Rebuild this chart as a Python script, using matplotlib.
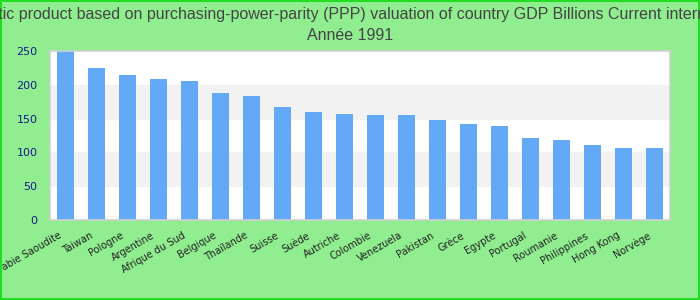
import numpy as np
import matplotlib
matplotlib.use("Agg")
import matplotlib.pyplot as plt
import matplotlib.transforms as mtransforms

countries = ["Arabie Saoudite", "Taiwan", "Pologne", "Argentine", "Afrique du Sud",
             "Belgique", "Thaïlande", "Suisse", "Suède", "Autriche", "Colombie",
             "Venezuela", "Pakistan", "Grèce", "Egypte", "Portugal", "Roumanie",
             "Philippines", "Hong Kong", "Norvège"]
gdp_ppp = [252, 225, 214, 209, 206, 188, 183, 167, 160, 157, 155,
           155, 148, 142, 139, 121, 118, 111, 106, 106]
y_ticks = [0, 50, 100, 150, 200, 250]

title_1 = ("Gross domestic product based on purchasing-power-parity (PPP) valuation of "
           "country GDP Billions Current international dollar")
title_2 = "Année 1991"

fig = plt.figure(figsize=(7, 3), dpi=100, facecolor="#90ee90")
# border around the whole picture
fig.patches.append(plt.Rectangle((0.001, 0.002), 0.997, 0.995, transform=fig.transFigure,
                                 fill=False, edgecolor="#22dd22", lw=1.5))
ax = fig.add_axes([50 / 700, 80 / 300, 620 / 700, 169 / 300])
ax.set_facecolor("white")

# alternating bands
for lo, hi in [(50, 100), (150, 200)]:
    ax.axhspan(lo, hi, color="#f2f2f2", zorder=0)

x = np.arange(len(countries))
ax.bar(x, gdp_ppp, width=0.55, color="#63a9f5", zorder=2)
ax.set_xlim(-0.5, len(countries) - 0.5)
ax.set_ylim(0, 250)
ax.set_yticks(y_ticks)
ax.tick_params(axis="y", length=0, colors="#1a1a8c", labelsize=8, pad=9)
ax.tick_params(axis="x", length=0, pad=6)
ax.set_xticks(x)
ax.set_xticklabels(countries, rotation=30, ha="right", rotation_mode="anchor",
                   fontsize=7, color="#222222")
shift = mtransforms.ScaledTranslation(-7 / 100, -2 / 100, fig.dpi_scale_trans)
for lab in ax.get_xticklabels():
    lab.set_transform(lab.get_transform() + shift)
for s in ax.spines.values():
    s.set_color("#d0d0d0")
    s.set_linewidth(1.2)

fig.text(0.5, 1 - 15 / 300, title_1, ha="center", va="center", fontsize=11.5,
         color="#444444", family="Liberation Sans")
fig.text(0.5, 1 - 36 / 300, title_2, ha="center", va="center", fontsize=11.5,
         color="#444444", family="Liberation Sans")

fig.savefig("out.png", dpi=100, facecolor=fig.get_facecolor())
